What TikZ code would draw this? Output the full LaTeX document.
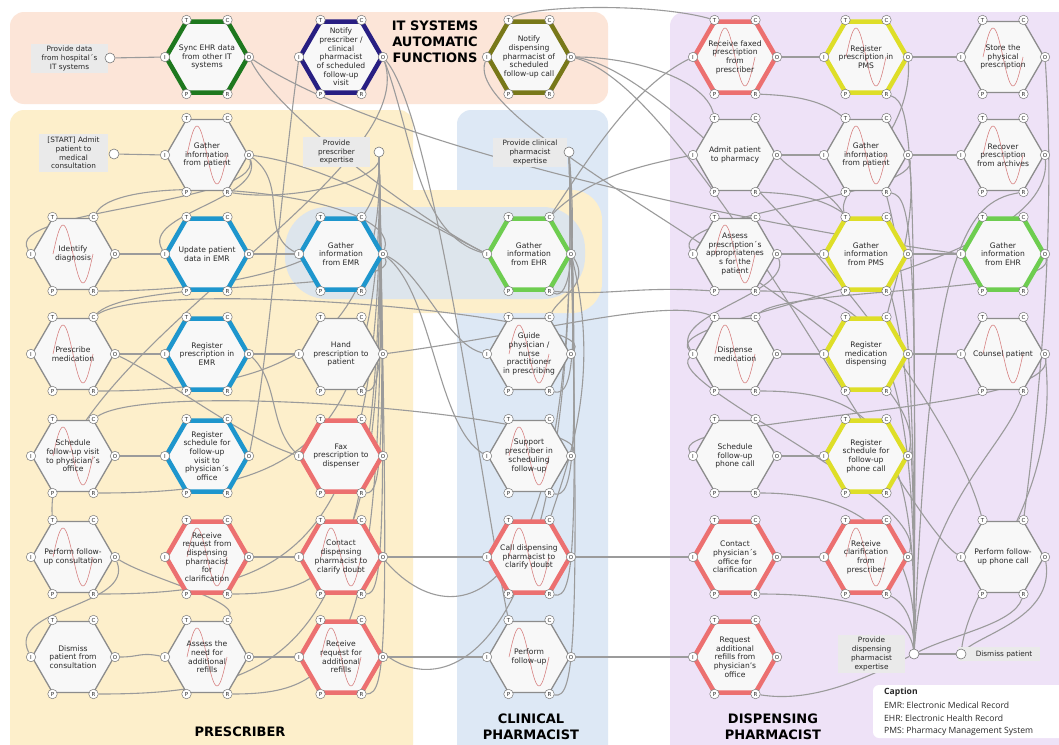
\documentclass[tikz,border=0pt]{standalone}
\usepackage{fontspec}
\setmainfont{DejaVu Sans}
\newfontfamily\captionfont{Open Sans}
\usetikzlibrary{calc}

\definecolor{itlane}{RGB}{252,229,216}
\definecolor{prlane}{RGB}{253,239,203}
\definecolor{cllane}{RGB}{221,232,245}
\definecolor{dslane}{RGB}{238,226,247}
\definecolor{emrband}{RGB}{221,229,236}
\definecolor{hexfill}{RGB}{248,248,248}
\definecolor{hexline}{RGB}{140,140,140}
\definecolor{wirecol}{RGB}{155,155,155}
\definecolor{sockline}{RGB}{120,120,120}
\definecolor{boxfill}{RGB}{234,234,234}
\definecolor{txtcol}{RGB}{40,40,40}
\definecolor{sinecol}{RGB}{215,130,130}
\definecolor{ehrgreen}{RGB}{30,120,30}
\definecolor{notnavy}{RGB}{40,30,130}
\definecolor{notolive}{RGB}{120,120,25}
\definecolor{emrblue}{RGB}{30,150,205}
\definecolor{phred}{RGB}{236,112,112}
\definecolor{pmsyellow}{RGB}{222,222,40}
\definecolor{ehrlight}{RGB}{110,205,80}

\pgfdeclarelayer{lanes}
\pgfdeclarelayer{wires}
\pgfsetlayers{lanes,wires,main}

\tikzset{
  x=1pt, y=-1pt,
  wire/.style={draw=wirecol, line width=1.1pt},
  plainhex/.style={fill=hexfill, draw=hexline, line width=1.3pt, line join=miter},
  ringhex/.style={fill=hexfill, draw=#1, line width=4.5pt, line join=miter},
  socket/.style={circle, draw=sockline, fill=white, line width=0.5pt, minimum size=9.5pt, inner sep=0pt, font=\fontsize{5.5}{5.5}\selectfont, text=txtcol},
  hextext/.style={align=center, font=\fontsize{7.6}{8.7}\selectfont, text=txtcol, inner sep=0pt},
  sinewave/.style={draw=sinecol, line width=0.6pt},
  tbox/.style={fill=boxfill, align=center, font=\fontsize{7.3}{8.7}\selectfont, text=txtcol, inner sep=0pt},
  endpt/.style={circle, draw=sockline, fill=white, line width=0.6pt, minimum size=10pt, inner sep=0pt},
  lanetitle/.style={align=center, font=\bfseries\fontsize{13}{16}\selectfont, text=black, inner sep=0pt},
  captext/.style={anchor=west, font=\captionfont\fontsize{8.6}{10}\selectfont, text=txtcol, inner sep=0pt},
}

% FRAM function: name, x, y, outline style, sine flag, label
\newcommand\fhex[6]{%
  \coordinate (#1) at (#2,#3);
  \path[#4] (#2-41,#3) -- (#2-20.5,#3-35.5) -- (#2+20.5,#3-35.5) -- (#2+41,#3)
     -- (#2+20.5,#3+35.5) -- (#2-20.5,#3+35.5) -- cycle;
  \ifnum#5=1 \draw[sinewave] (#2-20,#3) sin (#2-10,#3-29) cos (#2,#3) sin (#2+10,#3+29) cos (#2+20,#3);\fi
  \node[hextext] (#1-txt) at (#2,#3) {#6};
  \node[socket] (#1-T) at (#2-20.5,#3-37) {T};
  \node[socket] (#1-C) at (#2+20.5,#3-37) {C};
  \node[socket] (#1-I) at (#2-42,#3) {I};
  \node[socket] (#1-O) at (#2+42,#3) {O};
  \node[socket] (#1-P) at (#2-20.5,#3+37) {P};
  \node[socket] (#1-R) at (#2+20.5,#3+37) {R};
}
% curved coupling between two sockets
\newcommand\wire[4]{\draw[wire] (#1) .. controls +(#2) and +(#3) .. (#4);}

\begin{document}
\begin{tikzpicture}
\useasboundingbox (0,0) rectangle (1059,744);

% swimlanes
\begin{pgfonlayer}{lanes}
  \fill[white] (0,0) rectangle (1059,744);
  \fill[itlane, rounded corners=14pt] (10,12) rectangle (608,104);
  \fill[prlane, rounded corners=14pt] (10,110) rectangle (413,770);
  \fill[cllane, rounded corners=14pt] (457,110) rectangle (608,770);
  \fill[dslane, rounded corners=14pt] (670,12) rectangle (1080,770);
  \fill[prlane, rounded corners=30pt] (290,190) rectangle (602,313);
  \fill[emrband, rounded corners=42pt] (285,207) rectangle (585,299);
\end{pgfonlayer}

% lane titles
\node[lanetitle] (t-it) at (435,42) {IT SYSTEMS\\AUTOMATIC\\FUNCTIONS};
\node[lanetitle] (t-pr) at (240,732) {PRESCRIBER};
\node[lanetitle] (t-cl) at (531,727) {CLINICAL\\PHARMACIST};
\node[lanetitle] (t-ds) at (773,727) {DISPENSING\\PHARMACIST};

% IT systems automatic functions
\fhex{sync}{207}{57}{ringhex=ehrgreen}{0}{Sync EHR data\\from other IT\\systems}
\fhex{notp}{341}{57}{ringhex=notnavy}{0}{Notify\\prescriber /\\clinical\\pharmacist\\of scheduled\\follow-up\\visit}
\fhex{notd}{529}{57}{ringhex=notolive}{0}{Notify\\dispensing\\pharmacist of\\scheduled\\follow-up call}

% prescriber
\fhex{gip}{207}{155}{plainhex}{1}{Gather\\information\\from patient}
\fhex{idd}{73}{254}{plainhex}{1}{Identify\\diagnosis}
\fhex{upd}{207}{254}{ringhex=emrblue}{0}{Update patient\\data in EMR}
\fhex{gemr}{341}{254}{ringhex=emrblue}{0}{Gather\\information\\from EMR}
\fhex{presc}{73}{354}{plainhex}{1}{Prescribe\\medication}
\fhex{regemr}{207}{354}{ringhex=emrblue}{0}{Register\\prescription in\\EMR}
\fhex{hand}{341}{354}{plainhex}{0}{Hand\\prescription to\\patient}
\fhex{schv}{73}{456}{plainhex}{1}{Schedule\\follow-up visit\\to physician´s\\office}
\fhex{regsv}{207}{456}{ringhex=emrblue}{0}{Register\\schedule for\\follow-up\\visit to\\physician´s\\office}
\fhex{fax}{341}{456}{ringhex=phred}{0}{Fax\\prescription to\\dispenser}
\fhex{pfc}{73}{557}{plainhex}{1}{Perform follow-\\up consultation}
\fhex{rrc}{207}{557}{ringhex=phred}{1}{Receive\\request from\\dispensing\\pharmacist\\for\\clarification}
\fhex{cdp}{341}{557}{ringhex=phred}{1}{Contact\\dispensing\\pharmacist to\\clarify doubt}
\fhex{dis}{73}{657}{plainhex}{0}{Dismiss\\patient from\\consultation}
\fhex{anr}{207}{657}{plainhex}{1}{Assess the\\need for\\additional\\refills}
\fhex{rrr}{341}{657}{ringhex=phred}{1}{Receive\\request for\\additional\\refills}

% clinical pharmacist
\fhex{gehr}{529}{254}{ringhex=ehrlight}{0}{Gather\\information\\from EHR}
\fhex{guide}{529}{354}{plainhex}{1}{Guide\\physician /\\nurse\\practitioner\\in prescribing}
\fhex{supp}{529}{456}{plainhex}{1}{Support\\prescriber in\\scheduling\\follow-up}
\fhex{call}{529}{557}{ringhex=phred}{1}{Call dispensing\\pharmacist to\\clarify doubt}
\fhex{pfu}{529}{657}{plainhex}{1}{Perform\\follow-up}

% dispensing pharmacist
\fhex{rfax}{735}{57}{ringhex=phred}{1}{Receive faxed\\prescription\\from\\prescriber}
\fhex{rpms}{866}{57}{ringhex=pmsyellow}{1}{Register\\prescription in\\PMS}
\fhex{store}{1003}{57}{plainhex}{1}{Store the\\physical\\prescription}
\fhex{admit}{735}{155}{plainhex}{0}{Admit patient\\to pharmacy}
\fhex{gipd}{866}{155}{plainhex}{1}{Gather\\information\\from patient}
\fhex{recov}{1003}{155}{plainhex}{1}{Recover\\prescription\\from archives}
\fhex{assess}{735}{254}{plainhex}{1}{Assess\\prescription´s\\appropriatenes\\s for the\\patient}
\fhex{gpms}{866}{254}{ringhex=pmsyellow}{0}{Gather\\information\\from PMS}
\fhex{gehrd}{1003}{254}{ringhex=ehrlight}{0}{Gather\\information\\from EHR}
\fhex{disp}{735}{354}{plainhex}{1}{Dispense\\medication}
\fhex{rmd}{866}{354}{ringhex=pmsyellow}{0}{Register\\medication\\dispensing}
\fhex{couns}{1003}{354}{plainhex}{1}{Counsel patient}
\fhex{schp}{735}{456}{plainhex}{0}{Schedule\\follow-up\\phone call}
\fhex{rsp}{866}{456}{ringhex=pmsyellow}{0}{Register\\schedule for\\follow-up\\phone call}
\fhex{cpo}{735}{557}{ringhex=phred}{0}{Contact\\physician´s\\office for\\clarification}
\fhex{rcp}{866}{557}{ringhex=phred}{1}{Receive\\clarification\\from\\prescriber}
\fhex{pfp}{1003}{557}{plainhex}{0}{Perform follow-\\up phone call}
\fhex{rar}{735}{657}{ringhex=phred}{0}{Request\\additional\\refills from\\physician's\\office}

% entry and exit functions
\node[tbox, minimum width=77pt, minimum height=29pt] (pd) at (69.5,58.5) {Provide data\\from hospital´s\\IT systems};
\node[endpt] (pd-end) at (110,58) {};
\node[tbox, minimum width=69pt, minimum height=38pt] (st) at (73.5,153) {[START] Admit\\patient to\\medical\\consultation};
\node[endpt] (st-end) at (114,154) {};
\node[tbox, minimum width=67pt, minimum height=30pt] (pe) at (336.5,152) {Provide\\prescriber\\expertise};
\node[endpt] (pe-end) at (379,152) {};
\node[tbox, minimum width=74pt, minimum height=29pt] (ce) at (530,152.5) {Provide clinical\\pharmacist\\expertise};
\node[endpt] (ce-end) at (569,152) {};
\node[tbox, minimum width=67pt, minimum height=38pt] (de) at (871.5,654) {Provide\\dispensing\\pharmacist\\expertise};
\node[endpt] (de-end) at (914,654) {};
\node[tbox, minimum width=82pt, minimum height=14pt] (dism) at (999,654) {\hspace*{10pt}Dismiss patient};
\node[endpt] (dism-end) at (961,654) {};

% caption
\fill[white, rounded corners=6pt] (873,685) rectangle (1075,738);
\node[captext, font=\captionfont\bfseries\fontsize{8.6}{10}\selectfont] (cap0) at (884,692) {Caption};
\node[captext] (cap1) at (884,705) {EMR: Electronic Medical Record};
\node[captext] (cap2) at (884,718) {EHR: Electronic Health Record};
\node[captext] (cap3) at (884,731) {PMS: Pharmacy Management System};

% couplings
\begin{pgfonlayer}{wires}
  % straight output-to-input couplings
  \draw[wire] (pd-end) -- (sync-I);
  \draw[wire] (st-end) -- (gip-I);
  \draw[wire] (idd-O) -- (upd-I);
  \draw[wire] (upd-O) -- (gemr-I);
  \draw[wire] (presc-O) -- (regemr-I);
  \draw[wire] (regemr-O) -- (hand-I);
  \draw[wire] (schv-O) -- (regsv-I);
  \draw[wire] (rrc-O) -- (cdp-I);
  \draw[wire] (cdp-O) -- (call-I);
  \draw[wire] (anr-O) -- (rrr-I);
  \draw[wire] (rrr-O) -- (pfu-I);
  \draw[wire] (call-O) -- (cpo-I);
  \draw[wire] (pfu-O) -- (rar-I);
  \draw[wire] (cpo-O) -- (rcp-I);
  \draw[wire] (rfax-O) -- (rpms-I);
  \draw[wire] (rpms-O) -- (store-I);
  \draw[wire] (admit-O) -- (gipd-I);
  \draw[wire] (gipd-O) -- (recov-I);
  \draw[wire] (assess-O) -- (gpms-I);
  \draw[wire] (gpms-O) -- (gehrd-I);
  \draw[wire] (disp-O) -- (rmd-I);
  \draw[wire] (rmd-O) -- (couns-I);
  \draw[wire] (schp-O) -- (rsp-I);
  \draw[wire] (de-end) -- (dism-end);
  \wire{dis-O}{25,0}{-25,-5}{anr-I}

  % prescriber couplings
  \wire{gip-O}{12,50}{-30,-45}{idd-I}
  \wire{gip-O}{15,45}{-25,-40}{upd-I}
  \wire{gip-O}{40,30}{-40,-20}{gemr-I}
  \wire{gip-O}{80,10}{-60,-30}{gehr-I}
  \wire{gemr-O}{20,-60}{30,-50}{idd-C}
  \wire{gemr-O}{20,40}{40,-40}{presc-C}
  \wire{gemr-O}{40,20}{-40,-10}{guide-I}
  \wire{gemr-O}{50,40}{-50,-30}{supp-I}
  \wire{regemr-O}{30,30}{-30,-30}{fax-I}
  \wire{presc-O}{60,30}{-60,-20}{fax-I}
  \wire{regsv-O}{20,-100}{-20,150}{notp-I}
  \wire{notp-O}{40,120}{-10,-160}{pfc-T}
  \wire{notp-O}{50,60}{-30,-150}{pfu-T}
  \wire{notp-O}{30,80}{-70,-20}{gehr-I}
  \wire{pfc-O}{20,50}{-25,-50}{dis-I}
  \wire{pfc-O}{30,20}{10,-20}{anr-C}
  \wire{guide-O}{30,-40}{60,-40}{presc-C}
  \wire{supp-O}{20,-40}{60,-40}{schv-C}
  \wire{gehr-O}{20,30}{10,-20}{guide-C}
  \wire{gehr-O}{30,120}{20,-60}{call-C}
  \wire{sync-O}{30,60}{-60,-30}{gehr-I}
  \wire{sync-O}{150,100}{-150,-20}{gehrd-I}

  % prescriber expertise
  \wire{pe-end}{2,30}{60,10}{gip-R}
  \wire{pe-end}{5,110}{150,0}{idd-R}
  \wire{pe-end}{6,200}{180,0}{presc-R}
  \wire{pe-end}{5,200}{20,0}{hand-R}
  \wire{pe-end}{6,300}{200,0}{schv-R}
  \wire{pe-end}{6,300}{20,0}{fax-R}
  \wire{pe-end}{8,400}{200,0}{pfc-R}
  \wire{pe-end}{8,400}{120,0}{rrc-R}
  \wire{pe-end}{8,400}{20,0}{cdp-R}
  \wire{pe-end}{10,500}{200,0}{dis-R}
  \wire{pe-end}{10,500}{120,0}{anr-R}
  \wire{pe-end}{10,500}{25,0}{rrr-R}

  % clinical pharmacist expertise
  \wire{ce-end}{8,100}{20,10}{gehr-R}
  \wire{ce-end}{8,200}{25,5}{guide-R}
  \wire{ce-end}{10,300}{25,5}{supp-R}
  \wire{ce-end}{10,400}{25,5}{call-R}
  \wire{ce-end}{12,500}{25,5}{pfu-R}
  \wire{ce-end}{15,560}{40,100}{cdp-C}
  \wire{ce-end}{15,600}{30,80}{rrr-C}

  % couplings across lanes
  \wire{notd-T}{25,-15}{-60,-17}{rfax-T}
  \wire{gehr-C}{40,-60}{-60,30}{rfax-I}
  \wire{gehr-C}{40,-40}{-50,10}{admit-I}
  \wire{gehr-R}{60,5}{-80,-5}{assess-P}
  \wire{hand-O}{150,-20}{-50,-20}{disp-T}
  \wire{notd-O}{60,0}{-10,-40}{admit-T}
  \wire{notd-O}{100,10}{-40,-150}{pfp-T}
  \wire{notd-O}{120,30}{-60,-40}{pfp-I}
  \wire{rsp-O}{30,-120}{-30,80}{notd-I}

  % dispensing couplings
  \wire{gipd-O}{15,40}{-25,-40}{assess-I}
  \wire{gipd-O}{10,60}{10,-40}{rmd-C}
  \wire{admit-O}{20,20}{-15,-25}{gpms-T}
  \wire{assess-O}{15,40}{-25,-40}{disp-I}
  \wire{gehrd-O}{10,40}{30,-30}{disp-C}
  \wire{couns-O}{10,60}{-30,-40}{schp-I}
  \wire{couns-O}{15,150}{10,-80}{dism-end}
  \wire{pfp-O}{10,60}{20,-20}{dism-end}
  \wire{rcp-O}{20,-60}{-30,30}{disp-I}
  \wire{store-O}{10,150}{20,-150}{pfp-C}
  \wire{recov-O}{10,120}{-40,-40}{disp-I}
  \wire{rpms-O}{5,80}{-10,-30}{gpms-T}

  % dispensing pharmacist expertise
  \wire{de-end}{4,-520}{120,5}{rfax-R}
  \wire{de-end}{2,-520}{25,10}{rpms-R}
  \wire{de-end}{4,-420}{120,5}{admit-R}
  \wire{de-end}{3,-420}{25,5}{gipd-R}
  \wire{de-end}{4,-320}{120,0}{assess-R}
  \wire{de-end}{4,-220}{120,0}{disp-R}
  \wire{de-end}{5,-120}{100,0}{schp-R}
  \wire{de-end}{-5,-40}{100,0}{cpo-R}
  \wire{de-end}{0,-30}{20,10}{rcp-R}
  \wire{de-end}{10,-150}{-20,60}{couns-R}
  \wire{de-end}{40,-20}{-10,30}{pfp-R}
  \wire{de-end}{15,-400}{-60,10}{recov-R}
  \wire{de-end}{-40,20}{60,10}{rar-R}
\end{pgfonlayer}
\end{tikzpicture}
\end{document}
